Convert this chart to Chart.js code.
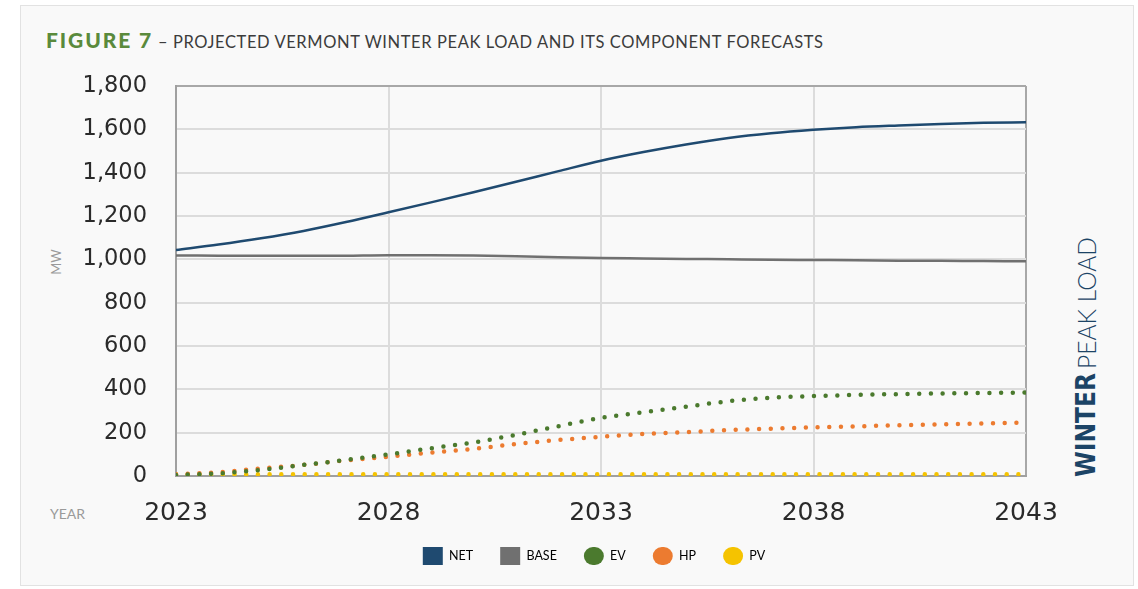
<!DOCTYPE html>
<html><head><meta charset="utf-8">
<script src="https://cdn.jsdelivr.net/npm/chart.js@4.4.1/dist/chart.umd.min.js"></script>
<style>
html,body{margin:0;padding:0;background:#fff;width:1138px;height:589px;overflow:hidden;}
#card{position:absolute;left:20px;top:5px;width:1114px;height:581px;background:#f9f9f9;border:1px solid #e2e2e2;box-sizing:border-box;}
#wrap{position:absolute;left:0;top:0;width:1138px;height:589px;}
#title{position:absolute;left:46px;top:27px;white-space:nowrap;font-family:Lato,sans-serif;color:#3c3c3c;}
#title b{font-size:21px;font-weight:900;color:#5a8a3c;letter-spacing:1.9px;}
#title span{font-size:16.5px;letter-spacing:0.6px;}
#mw{position:absolute;left:56px;top:262px;transform:translate(-50%,-50%) rotate(-90deg);font-family:Lato,sans-serif;font-size:13px;color:#9a9a9a;white-space:nowrap;}
#year{position:absolute;left:50px;top:505px;font-family:Lato,sans-serif;font-size:14px;color:#9a9a9a;}
.side{position:absolute;white-space:nowrap;font-family:"DejaVu Sans",sans-serif;font-size:27px;color:#1c4466;line-height:1;}
#s1{font-weight:900;}
#s2{font-family:Lato,"DejaVu Sans",sans-serif;font-weight:300;font-size:26px;}
</style></head>
<body>
<div id="card"></div>
<div id="title"><b>FIGURE 7</b><span> – PROJECTED VERMONT WINTER PEAK LOAD AND ITS COMPONENT FORECASTS</span></div>
<div id="mw">MW</div>
<div id="year">YEAR</div>
<div class="side" id="s1">WINTER</div>
<div class="side" id="s2">PEAK LOAD</div>
<div id="wrap"><canvas id="c"></canvas></div>
<script>
const years = [2023,2024,2025,2026,2027,2028,2029,2030,2031,2032,2033,2034,2035,2036,2037,2038,2039,2040,2041,2042,2043];
const netLoad  = [1043,1068,1097,1131,1172,1217,1263,1310,1358,1407,1455,1495,1530,1560,1582,1598,1610,1618,1625,1630,1633];
const baseLoad = [1018,1017,1016,1016,1017,1019,1019,1018,1014,1010,1006,1004,1002,1000,998,997,996,994,993,992,991];
const evLoad   = [5,12,28,51,74,100,128,155,190,230,268,294,320,345,361,369,374,378,381,383,385];
const hpLoad   = [8,17,35,51,72,89,108,125,148,166,181,194,202,212,218,225,229,234,238,243,246];
const pvLoad   = [8,8,8,8,8,8,8,8,8,8,8,8,8,8,8,8,8,8,8,8,8];
const seriesNames = ['NET','BASE','EV','HP','PV'];
const yTicks = [0,200,400,600,800,1000,1200,1400,1600,1800];
const xTicks = [2023,2028,2033,2038,2043];

const colors = ['#1f4a70','#707070','#4b7a2e','#ec7b30','#f5c300'];
const legendShape = ['rect','rect','circle','circle','circle'];
const allSeries = [netLoad, baseLoad, evLoad, hpLoad, pvLoad];

// side label placement (rotated, scaled to match lengths)
function placeSide(id, cx, cy, len) {
  const el = document.getElementById(id);
  const w = el.offsetWidth;
  el.style.left = cx + 'px';
  el.style.top = cy + 'px';
  el.style.transform = 'translate(-50%,-50%) rotate(-90deg) scaleX(' + (len / w) + ')';
}
placeSide('s1', 1085, 425, 104);
placeSide('s2', 1086, 303, 132);

const datasets = allSeries.map((vals, i) => {
  const dotted = i >= 2;
  return {
    label: seriesNames[i],
    data: years.map((yr, k) => ({x: yr, y: vals[k]})),
    borderColor: colors[i],
    backgroundColor: colors[i],
    borderWidth: dotted ? 4.5 : 2.5,
    borderDash: dotted ? [0, 11.7] : [],
    borderCapStyle: dotted ? 'round' : 'butt',
    pointRadius: 0,
    cubicInterpolationMode: 'monotone',
    fill: false,
    yAxisID: 'y'
  };
});

new Chart(document.getElementById('c'), {
  type: 'line',
  data: { datasets },
  options: {
    responsive: true,
    maintainAspectRatio: false,
    animation: false,
    layout: { padding: { left: 50, right: 0, top: 86, bottom: 14 } },
    plugins: {
      tooltip: { enabled: false },
      legend: {
        position: 'bottom',
        labels: {
          boxWidth: 20,
          boxHeight: 18,
          padding: 27,
          color: '#555',
          font: { family: 'Lato, sans-serif', size: 12.5 },
          generateLabels: (chart) => chart.data.datasets.map((ds, i) => ({
            text: ds.label,
            fillStyle: colors[i],
            strokeStyle: colors[i],
            lineWidth: 0,
            lineDash: [],
            borderRadius: legendShape[i] === 'circle' ? 9 : 0,
            hidden: false,
            datasetIndex: i
          }))
        }
      }
    },
    scales: {
      x: {
        type: 'linear',
        min: 2023, max: 2043,
        afterBuildTicks: (s) => { s.ticks = xTicks.map(v => ({value: v})); },
        afterFit: (s) => { s.height = 44; },
        grid: { color: (ctx) => ctx.tick && ctx.tick.value === 2043 ? '#a8a8a8' : '#dcdcdc', lineWidth: 2, drawTicks: false },
        border: { color: '#a0a0a0', width: 2 },
        ticks: { padding: 22, color: '#2a2a2a', font: { family: '"DejaVu Sans", sans-serif', size: 25 }, callback: (v) => String(v), maxRotation: 0 }
      },
      y: {
        min: 0, max: 1800,
        afterBuildTicks: (s) => { s.ticks = yTicks.map(v => ({value: v})); },
        afterFit: (s) => { s.width = 126; },
        grid: { color: (ctx) => ctx.tick && ctx.tick.value === 1800 ? '#a8a8a8' : '#dcdcdc', lineWidth: 2, drawTicks: false },
        border: { color: '#a0a0a0', width: 2 },
        ticks: { padding: 29, color: '#2a2a2a', font: { family: '"DejaVu Sans", sans-serif', size: 22.5 }, callback: (v) => v.toLocaleString('en-US') }
      },
      yRight: {
        position: 'right',
        min: 0, max: 1800,
        afterFit: (s) => { s.width = 112; },
        grid: { display: false, drawOnChartArea: false },
        border: { display: false },
        ticks: { display: false }
      }
    }
  }
});
</script>
</body></html>
